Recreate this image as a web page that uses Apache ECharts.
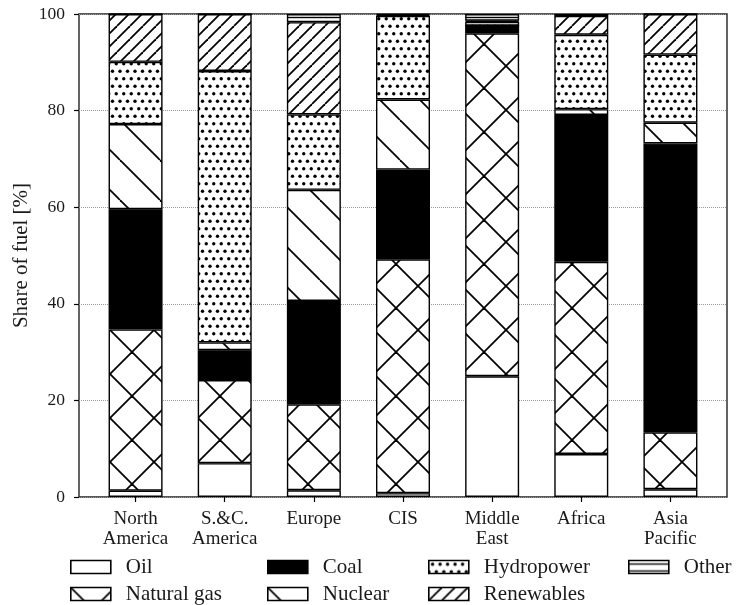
<!DOCTYPE html>
<html>
<head>
<meta charset="utf-8">
<script src="https://cdn.jsdelivr.net/npm/echarts@6/dist/echarts.min.js"></script>
<style>
  html, body { margin: 0; padding: 0; background: #fff; }
  #chart { width: 738px; height: 605px; }
</style>
</head>
<body>
<div id="chart"></div>
<script>
// Regions on the x axis
const regions = ['North\nAmerica', 'S.&C.\nAmerica', 'Europe', 'CIS', 'Middle\nEast', 'Africa', 'Asia\nPacific'];
// Fuels, bottom to top of each stack
const fuels = ['Oil', 'Natural gas', 'Coal', 'Nuclear', 'Hydropower', 'Renewables', 'Other'];

// Share of each fuel per region [%]
const oil        = [1.3, 7.0, 1.4, 0.8, 25.0, 8.9, 1.6];
const naturalGas = [33.4, 17.2, 17.8, 48.4, 71.0, 39.8, 11.8];
const coal       = [24.9, 6.2, 21.4, 18.6, 1.6, 30.4, 59.8];
const nuclear    = [17.6, 1.6, 23.0, 14.5, 0.0, 1.2, 4.3];
const hydropower = [12.9, 56.2, 15.6, 17.3, 0.8, 15.4, 14.1];
const renewables = [9.9, 11.8, 19.1, 0.2, 0.2, 3.9, 8.4];
const other      = [0.0, 0.0, 1.7, 0.2, 1.4, 0.4, 0.0];

const yTicks = [0, 20, 40, 60, 80, 100];

const FONT = '"Liberation Serif", "DejaVu Serif", serif';
const INK = '#1a1a1a';

// Hatch tiles, used as repeating fill patterns
function tile(w, h, draw) {
  const c = document.createElement('canvas');
  c.width = w; c.height = h;
  const g = c.getContext('2d');
  g.fillStyle = '#fff';
  g.fillRect(0, 0, w, h);
  g.strokeStyle = '#000';
  g.fillStyle = '#000';
  g.lineWidth = 1.8;
  draw(g, w, h);
  return { image: c, repeat: 'repeat' };
}
function diagonal(g, t, rising) {
  for (let k = -1; k <= 1; k++) {
    g.beginPath();
    if (rising) { g.moveTo(k * t, t); g.lineTo(k * t + t, 0); }
    else { g.moveTo(k * t, 0); g.lineTo(k * t + t, t); }
    g.stroke();
  }
}
const crossFill = tile(44, 44, (g, t) => { diagonal(g, t, true); diagonal(g, t, false); });
const backFill = tile(40, 40, (g, t) => diagonal(g, t, false));
const slashFill = tile(13, 13, (g, t) => diagonal(g, t, true));
const dotFill = tile(15, 15, (g) => {
  const pts = [[3.75, 3.75], [11.25, 3.75], [0, 11.25], [7.5, 11.25], [15, 11.25]];
  pts.forEach(([x, y]) => { g.beginPath(); g.arc(x, y, 1.7, 0, Math.PI * 2); g.fill(); });
});
const lineFill = tile(7, 7, (g, w) => {
  g.lineWidth = 1.4;
  g.beginPath(); g.moveTo(0, 3.5); g.lineTo(w, 3.5); g.stroke();
});

const values = [oil, naturalGas, coal, nuclear, hydropower, renewables, other];
const fills = ['#ffffff', crossFill, '#000000', backFill, dotFill, slashFill, lineFill];

const series = fuels.map((name, i) => ({
  name,
  type: 'bar',
  stack: 'share',
  xAxisIndex: 0,
  yAxisIndex: 0,
  barWidth: 54,
  data: values[i],
  itemStyle: { color: fills[i], borderColor: '#000', borderWidth: 1.4 },
  emphasis: { disabled: true }
}));

// Legend: 4 columns, filled column by column
const legendCols = [70, 267, 428, 628];
const legendRows = [556.5, 583.5];
const legendOrder = [['Oil', 'Natural gas'], ['Coal', 'Nuclear'], ['Hydropower', 'Renewables'], ['Other']];
const legends = [];
legendOrder.forEach((col, ci) => col.forEach((name, ri) => {
  legends.push({
    data: [name],
    left: legendCols[ci],
    top: legendRows[ri],
    padding: 0,
    icon: 'rect',
    itemWidth: 40,
    itemHeight: 13,
    selectedMode: false,
    itemStyle: { borderColor: '#000', borderWidth: 1.6 },
    textStyle: { fontFamily: FONT, fontSize: 21, color: INK, padding: [0, 0, 0, 10] }
  });
}));

const chart = echarts.init(document.getElementById('chart'), null, { renderer: 'canvas' });
chart.setOption({
  animation: false,
  backgroundColor: '#fff',
  grid: [
    { left: 91, right: 23, top: 14, bottom: 108 },
    { left: 79, right: 11, top: 14, bottom: 108, show: true, borderColor: '#222', borderWidth: 1.4, backgroundColor: 'transparent' }
  ],
  legend: legends,
  xAxis: [
    {
      gridIndex: 0,
      type: 'category',
      data: regions,
      axisLine: { show: false },
      axisTick: { show: true, alignWithLabel: true, length: 5, lineStyle: { color: '#000', width: 1.2 } },
      axisLabel: { interval: 0, fontFamily: FONT, fontSize: 19, lineHeight: 20, color: INK, margin: 12 },
      splitLine: { show: false }
    },
    { gridIndex: 1, type: 'value', min: 0, max: 1, show: false }
  ],
  yAxis: [
    { gridIndex: 0, type: 'value', min: 0, max: 100, show: false },
    {
      gridIndex: 1,
      type: 'value',
      min: yTicks[0],
      max: yTicks[yTicks.length - 1],
      interval: yTicks[1] - yTicks[0],
      axisLine: { show: false },
      axisTick: { show: true, length: 5, lineStyle: { color: '#000', width: 1.2 } },
      axisLabel: { fontFamily: FONT, fontSize: 17.5, color: INK, margin: 14 },
      splitLine: { show: true, lineStyle: { type: 'dotted', color: '#9a9a9a', width: 1 } },
      name: 'Share of fuel [%]',
      nameLocation: 'middle',
      nameGap: 47,
      nameMoveOverlap: false,
      nameTextStyle: { fontFamily: FONT, fontSize: 21, color: INK }
    }
  ],
  series
});
</script>
</body>
</html>
